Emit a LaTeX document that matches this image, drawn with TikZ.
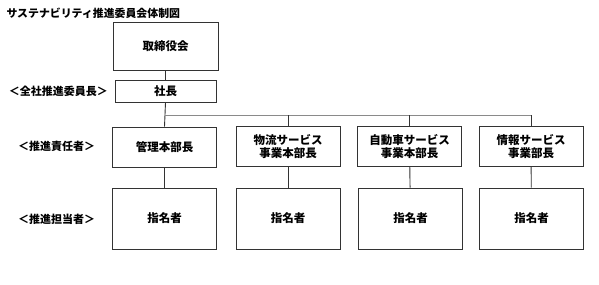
\documentclass[tikz,border=0pt]{standalone}
\usepackage{fontspec}
\setmainfont{Noto Sans CJK JP}
\usepackage{tikz}
\usepackage{xcolor}

\definecolor{boxline}{HTML}{333333}
\definecolor{busline}{HTML}{8A8A8A}

\begin{document}
\begin{tikzpicture}[x=1pt,y=-1pt,
  orgbox/.style={draw=boxline,line width=0.9pt,fill=white,align=center,
    font=\bfseries\fontsize{11.5}{12.5}\selectfont,inner sep=0pt},
  headbox/.style={orgbox,minimum width=104pt,minimum height=40pt},
  staffbox/.style={orgbox,minimum width=104pt,minimum height=61pt},
  rolelabel/.style={font=\bfseries\fontsize{11}{12}\selectfont}]
  \useasboundingbox[fill=white] (0,0) rectangle (599,284);
  \node[anchor=west,font=\bfseries\fontsize{10.9}{13}\selectfont] (title) at (3,13) {サステナビリティ推進委員会体制図};
  \node[orgbox,minimum width=105pt,minimum height=48pt] (board) at (165.5,46) {取締役会};
  \node[orgbox,minimum width=101pt,minimum height=22pt] (ceo) at (165.5,91) {社長};
  \node[headbox] (kanri) at (164.5,147) {管理本部長};
  \node[headbox] (butsuryu) at (288,146.5) {物流サービス\\事業本部長};
  \node[headbox] (jidosha) at (409.5,146.5) {自動車サービス\\事業本部長};
  \node[headbox] (joho) at (531,146.5) {情報サービス\\事業部長};
  \node[staffbox] (staffA) at (164.5,218.5) {指名者};
  \node[staffbox] (staffB) at (288,218.5) {指名者};
  \node[staffbox] (staffC) at (410.5,218.5) {指名者};
  \node[staffbox] (staffD) at (531.5,218.5) {指名者};
  \node[rolelabel] (lblchair) at (58.5,91) {＜全社推進委員長＞};
  \node[rolelabel] (lbllead) at (56.5,146) {＜推進責任者＞};
  \node[rolelabel] (lblstaff) at (56.5,219) {＜推進担当者＞};
  % connectors
  \coordinate (bus) at (164.5,115);
  \draw[boxline,line width=0.9pt] (board) -- (ceo);
  \draw[boxline,line width=0.9pt] (ceo.south) -- (kanri.north);
  \draw[busline,line width=1pt] (bus) -- (bus -| joho.north);
  \foreach \n in {butsuryu,jidosha,joho}
    \draw[boxline,line width=0.9pt] (bus -| \n.north) -- (\n.north);
  \draw[boxline,line width=0.9pt] (kanri) -- (staffA);
  \draw[boxline,line width=0.9pt] (butsuryu) -- (staffB);
  \draw[boxline,line width=0.9pt] (jidosha) -- (staffC);
  \draw[boxline,line width=0.9pt] (joho) -- (staffD);
\end{tikzpicture}
\end{document}
